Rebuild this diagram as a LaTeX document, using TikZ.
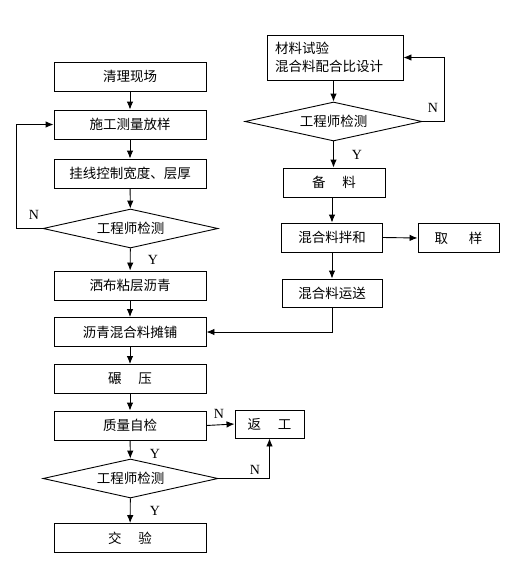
\documentclass[tikz,border=0pt]{standalone}
\usepackage{fontspec}
\setmainfont{Liberation Serif}
\newfontfamily\cjk{Noto Sans CJK SC}
\usetikzlibrary{shapes.geometric,arrows.meta}
\begin{document}
\begin{tikzpicture}[x=1pt,y=-1pt,
  box/.style={draw,line width=0.9pt,inner sep=0pt,minimum height=29pt,font=\cjk\fontsize{13.5}{16}\selectfont},
  dia/.style={draw,diamond,aspect=4.5,line width=0.9pt,inner sep=0pt,minimum width=175pt,minimum height=39pt,font=\cjk\fontsize{13.5}{16}\selectfont},
  arr/.style={line width=0.9pt,-{Latex[length=8pt,width=6.5pt]}},
  lbl/.style={font=\fontsize{14}{16}\selectfont,inner sep=0pt}]
\useasboundingbox (0,0) rectangle (520,587);
% left column
\node[box,minimum width=152pt] (b1) at (130,76.5) {清理现场};
\node[box,minimum width=152pt] (b2) at (130,124.5) {施工测量放样};
\node[box,minimum width=152pt] (b3) at (130,173.5) {挂线控制宽度、层厚};
\node[dia] (d1) at (130.5,228.5) {工程师检测};
\node[box,minimum width=152pt] (b4) at (130,285.5) {洒布粘层沥青};
\node[box,minimum width=152pt] (b5) at (130,332) {沥青混合料摊铺};
\node[box,minimum width=152pt] (b6) at (130,379) {碾\hspace{17pt}压};
\node[box,minimum width=152pt] (b7) at (130,425.5) {质量自检};
\node[dia] (d2) at (130.5,478.5) {工程师检测};
\node[box,minimum width=152pt] (b8) at (130,538) {交\hspace{17pt}验};
\node[box,minimum width=69pt,minimum height=28pt] (fg) at (269.5,424) {返\hspace{17pt}工};
% right column
\node[box,minimum width=136pt,minimum height=45pt,text width=120pt,align=left,font=\cjk\fontsize{13.5}{18}\selectfont] (r1) at (335,57.5) {材料试验\\混合料配合比设计};
\node[dia,minimum width=177pt] (d3) at (333.5,121.5) {工程师检测};
\node[box,minimum width=102pt] (r2) at (334,182.5) {备\hspace{17pt}料};
\node[box,minimum width=101pt] (r3) at (332,237.5) {混合料拌和};
\node[box,minimum width=81pt] (qy) at (458.5,238) {取\hspace{21pt}样};
\node[box,minimum width=100pt,minimum height=28pt] (r4) at (332,293) {混合料运送};
% connectors left
\draw[arr] (b1) -- (b2);
\draw[arr] (b2) -- (b3);
\draw[arr] (b3) -- (d1);
\draw[arr] (d1) -- (b4);
\draw[arr] (b4) -- (b5);
\draw[arr] (b5) -- (b6);
\draw[arr] (b6) -- (b7);
\draw[arr] (b7) -- (d2);
\draw[arr] (d2) -- (b8);
\coordinate (c1) at (16,228.5);
\draw[arr] (d1.west) -- (c1) |- (b2.west);
\draw[arr] (b7.east) -- (fg.west);
\draw[arr] (d2.east) -| (fg.south);
% connectors right
\draw[arr] (r1.south -| d3.north) -- (d3.north);
\draw[arr] (d3.south) -- (d3.south |- r2.north);
\draw[arr] (r2.south -| r3.north) -- (r3.north);
\draw[arr] (r3.east) -- (qy.west);
\draw[arr] (r3) -- (r4);
\coordinate (c2) at (444,121.5);
\draw[arr] (d3.east) -- (c2) |- (r1.east);
\draw[arr] (r4.south) |- (b5.east);
% labels
\node[lbl] (n1) at (34,215) {N};
\node[lbl] (y1) at (153,260) {Y};
\node[lbl] (n2) at (433,108) {N};
\node[lbl] (y2) at (357,155) {Y};
\node[lbl] (n3) at (219,414) {N};
\node[lbl] (n4) at (255,470) {N};
\node[lbl] (y3) at (155,454) {Y};
\node[lbl] (y4) at (155,511) {Y};
\end{tikzpicture}
\end{document}
